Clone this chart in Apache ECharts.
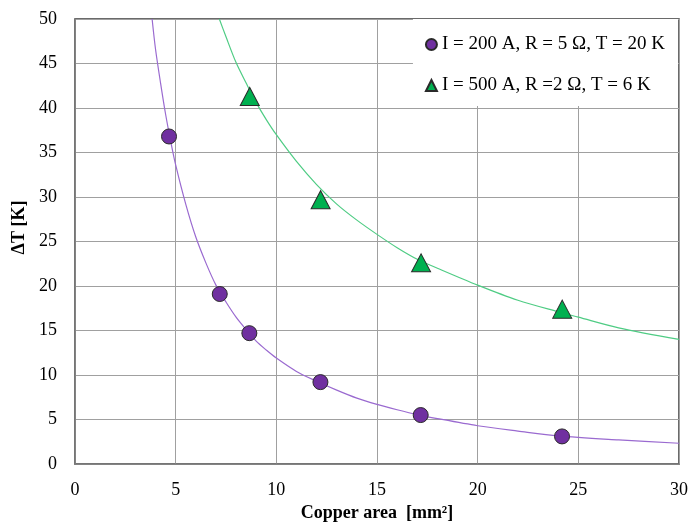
<!DOCTYPE html>
<html>
<head>
<meta charset="utf-8">
<title>ΔT vs copper area</title>
<script src="https://cdn.jsdelivr.net/npm/echarts@6/dist/echarts.min.js"></script>
<style>
  html, body { margin: 0; padding: 0; background: #fff; }
  #chart { width: 691px; height: 523px; }
</style>
</head>
<body>
<div id="chart"></div>
<script>
// Measured points: copper area [mm²] vs temperature rise [K]
const area200 = [4.67, 7.19, 8.66, 12.19, 17.17, 24.19];
const dT200   = [36.8, 19.1, 14.7, 9.2, 5.5, 3.1];
const area500 = [8.68, 12.2, 17.19, 24.2];
const dT500   = [41.3, 29.7, 22.6, 17.4];

// Trend curves through each data set
const fitX200 = [3.83, 4, 4.25, 4.5, 4.75, 5, 5.5, 6, 6.5, 7, 7.5, 8, 8.5, 9, 9.5, 10, 11, 12, 13, 14, 15, 16, 17, 18, 20, 22, 24, 27, 30];
const fitY200 = [50, 46.6, 42.8, 39.3, 36.3, 33.6, 29.2, 25.5, 22.6, 20.1, 18.2, 16.5, 15.1, 13.8, 12.8, 11.9, 10.4, 9.3, 8.3, 7.4, 6.7, 6.1, 5.55, 5.1, 4.3, 3.7, 3.15, 2.7, 2.33];
const fitX500 = [7.17, 7.5, 8, 8.5, 9, 9.5, 10, 11, 12, 13, 14, 15, 16, 17, 18, 20, 22, 24, 25, 27, 30];
const fitY500 = [50, 48.0, 45.1, 42.8, 40.6, 38.7, 37.0, 34.0, 31.4, 29.2, 27.4, 25.8, 24.3, 23.0, 22.0, 20.1, 18.4, 17.1, 16.5, 15.3, 14.0];

const name200 = 'I = 200 A, R = 5 Ω, T = 20 K';
const name500 = 'I = 500 A, R =2 Ω, T = 6 K';

const zip = (xs, ys) => xs.map((x, i) => [x, ys[i]]);
const FONT = 'Liberation Serif';

const chart = echarts.init(document.getElementById('chart'), null, { renderer: 'canvas' });
chart.setOption({
  animation: false,
  backgroundColor: '#ffffff',
  textStyle: { fontFamily: FONT },
  grid: {
    left: 75, right: 12, top: 19, bottom: 59,
    show: true, borderColor: '#3a3a3a', borderWidth: 1.5,
    containLabel: false,
    outerBoundsMode: 'none'
  },
  xAxis: {
    type: 'value', min: 0, max: 30, interval: 5,
    name: 'Copper area  [mm²]', nameLocation: 'middle', nameGap: 38,
    nameTextStyle: { fontFamily: FONT, fontSize: 18, fontWeight: 'bold', color: '#000' },
    axisLine: { show: true, lineStyle: { color: '#7a7a7a', width: 1.5 } },
    axisTick: { show: false },
    axisLabel: { fontFamily: FONT, fontSize: 18, color: '#000', margin: 17 },
    splitLine: { show: true, lineStyle: { color: '#a0a0a0', width: 1 } }
  },
  yAxis: {
    type: 'value', min: 0, max: 50, interval: 5,
    name: 'ΔT [K]', nameLocation: 'middle', nameGap: 34, nameRotate: 90,
    nameTextStyle: { fontFamily: FONT, fontSize: 18, fontWeight: 'bold', color: '#000', padding: [0, 0, 0, 28] },
    axisLine: { show: true, lineStyle: { color: '#7a7a7a', width: 1.5 } },
    axisTick: { show: false },
    axisLabel: { fontFamily: FONT, fontSize: 18, color: '#000', margin: 18 },
    splitLine: { show: true, lineStyle: { color: '#a0a0a0', width: 1 } }
  },
  legend: {
    data: [name200, name500],
    orient: 'vertical',
    right: 13, top: 19,
    backgroundColor: '#ffffff',
    padding: [16, 13, 11, 12],
    itemGap: 22,
    itemWidth: 11, itemHeight: 11,
    textStyle: { fontFamily: FONT, fontSize: 19, color: '#000', lineHeight: 19 }
  },
  series: [
    {
      name: 'fit200', type: 'line', smooth: 0.3, showSymbol: false, silent: true,
      data: zip(fitX200, fitY200),
      lineStyle: { color: '#9a6ad0', width: 1.2 }, z: 2
    },
    {
      name: 'fit500', type: 'line', smooth: 0.3, showSymbol: false, silent: true,
      data: zip(fitX500, fitY500),
      lineStyle: { color: '#4fcc84', width: 1.2 }, z: 2
    },
    {
      name: name200, type: 'scatter', symbol: 'circle', symbolSize: 15,
      data: zip(area200, dT200),
      itemStyle: { color: '#7030a0', opacity: 1, borderColor: '#2a2a2a', borderWidth: 1 }, z: 3
    },
    {
      name: name500, type: 'scatter', symbol: 'triangle', symbolSize: [19, 18],
      data: zip(area500, dT500),
      itemStyle: { color: '#00b050', opacity: 1, borderColor: '#2a2a2a', borderWidth: 1 }, z: 3
    }
  ]
});
</script>
</body>
</html>
